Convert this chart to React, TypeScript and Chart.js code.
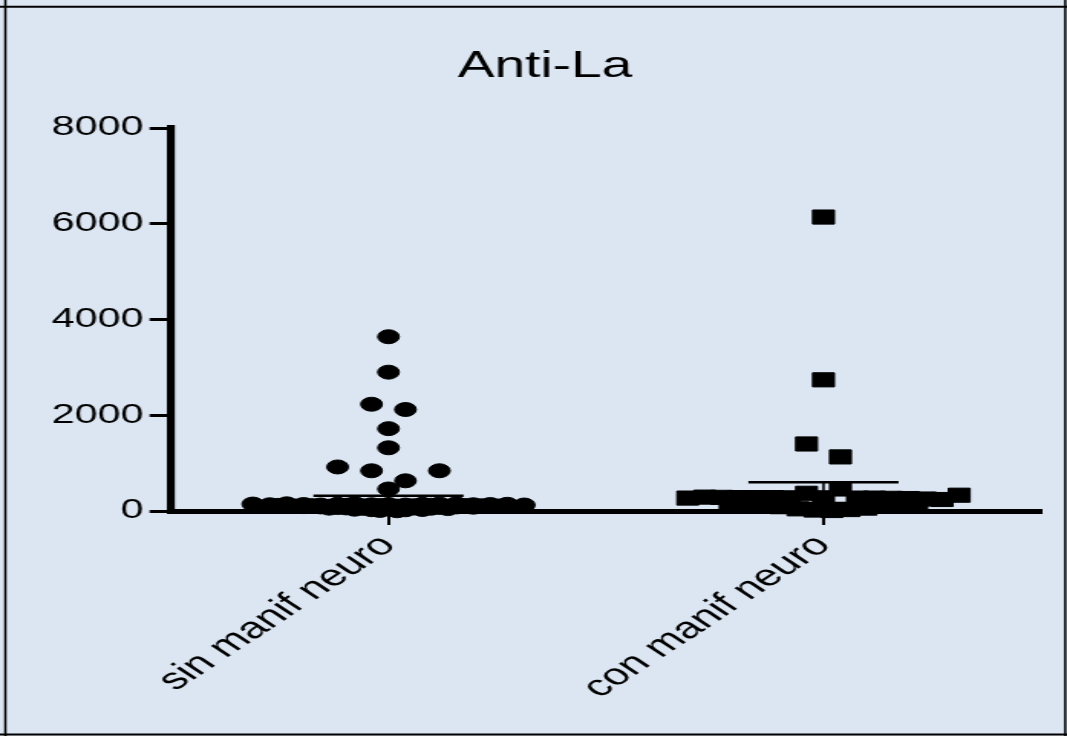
import React, { useEffect, useRef } from 'react';
import { Chart, registerables } from 'chart.js';

Chart.register(...registerables);

// ---------------- data ----------------
const chartTitle = 'Anti-La';
const categories = ['sin manif neuro', 'con manif neuro'];
const yTickValues = [0, 2000, 4000, 6000, 8000];

// individual values, in patient order
const sinManifNeuro = [
  3640, 2900, 2230, 2120, 1720, 1320, 920, 840, 630, 840, 460,
  145, 92, 118, 60, 130, 105, 38, 150, 85, 112, 135, 12,
  125, 72, 100, 65, 140, 120, 28, 155, 88, 108, 130,
  55, 135, 95, 115, 42, 125, 78, 102, 140, 68, 145,
  110, 25, 150, 82, 120, 52, 130, 90, 100, 135, 5,
  140, 75, 115, 62, 125, 85, 110, 32, 105, 80, 58, 50,
];
const conManifNeuro = [
  6140, 270, 2740, 290, 1400, 285, 280, 1130, 280, 280, 275, 370, 275,
  460, 270, 270, 265, 260, 250, 240, 330,
  150, 130, 110, 90, 45, 20, 10, 30, 60, 100, 120, 140,
];

// summary lines (mean, lower end of error bar)
const groupMeans = [320, 600];
const groupErrorLow = [120, 170];

// ---------------- layout constants ----------------
const CANVAS_W = 697; // drawn narrow, shown stretched like the original export
const CANVAS_H = 736;
const SHOWN_W = 1067;
const SLOT = 0.078; // horizontal step between neighbouring symbols (x units)
const ROW_SPAN = 300; // values closer than this share a row
const MAX_ROW = 9; // symbols per row before the row is packed tighter
const DENSE_CAP = 2 * (MAX_ROW - 1) + 1;
const MEAN_HALF = 0.1725;
const CAP_HALF = 0.09;
const FONT = "'Liberation Sans', Arial, sans-serif";

type P = { x: number; y: number };

// Prism-like column scatter: values grouped into centred rows;
// crowded rows are packed at half spacing and stack into a narrowing swarm.
function columnScatter(values: number[], center: number): P[] {
  const order = values.map((_, i) => i).sort((a, b) => values[b] - values[a] || a - b);
  const rows: { idx: number[]; step: number }[] = [];
  let cur: number[] = [];
  let top = 0;
  let cap = DENSE_CAP;
  let cont = false;
  const close = () => {
    rows.push({ idx: cur, step: cont || cur.length > MAX_ROW ? SLOT / 2 : SLOT });
  };
  for (const i of order) {
    const v = values[i];
    if (cur.length && (top - v > ROW_SPAN || cur.length >= cap)) {
      const full = cur.length >= cap;
      close();
      if (full) {
        cont = true;
        cap = Math.max(1, cap - 3);
      } else {
        cont = false;
        cap = DENSE_CAP;
      }
      cur = [];
    }
    if (!cur.length) top = v;
    cur.push(i);
  }
  if (cur.length) close();

  const pts: P[] = new Array(values.length);
  rows.forEach(({ idx, step }) => {
    const sorted = [...idx].sort((a, b) => a - b);
    sorted.forEach((i, k) => {
      pts[i] = { x: center + (k - (sorted.length - 1) / 2) * step, y: values[i] };
    });
  });
  return pts;
}

function lineSet(data: P[], width: number) {
  return {
    data,
    showLine: true,
    pointRadius: 0,
    borderColor: '#000',
    backgroundColor: '#000',
    borderWidth: width,
    clip: false as const,
  };
}

const backgroundPlugin = {
  id: 'prismBackground',
  beforeDraw(chart: any) {
    const { ctx, width, height } = chart;
    ctx.save();
    ctx.fillStyle = '#dce6f2';
    ctx.fillRect(0, 0, width, height);
    ctx.strokeStyle = '#000';
    ctx.lineWidth = 1.5;
    ctx.beginPath();
    ctx.moveTo(3.5, 0);
    ctx.lineTo(3.5, height);
    ctx.moveTo(width - 1.2, 0);
    ctx.lineTo(width - 1.2, height);
    ctx.stroke();
    ctx.lineWidth = 2;
    ctx.beginPath();
    ctx.moveTo(0, 6.7);
    ctx.lineTo(width, 6.7);
    ctx.moveTo(0, height - 1.5);
    ctx.lineTo(width, height - 1.5);
    ctx.stroke();
    ctx.restore();
  },
};

export default function App() {
  const ref = useRef<HTMLCanvasElement | null>(null);

  useEffect(() => {
    document.body.style.margin = '0';
    const canvas = ref.current;
    if (!canvas) return;

    const centers = categories.map((_, i) => i + 0.5);
    const groups = [sinManifNeuro, conManifNeuro];
    const styles = [
      { pointStyle: 'circle', pointRadius: 7 },
      { pointStyle: 'rect', pointRadius: 10 },
    ];

    const datasets: any[] = [];
    groups.forEach((vals, g) => {
      datasets.push({
        label: categories[g],
        data: columnScatter(vals, centers[g]),
        pointStyle: styles[g].pointStyle,
        pointRadius: styles[g].pointRadius,
        pointBorderWidth: 1,
        backgroundColor: '#000',
        borderColor: '#000',
        clip: false,
      });
    });
    groups.forEach((_, g) => {
      const c = centers[g];
      datasets.push(lineSet([{ x: c - MEAN_HALF, y: groupMeans[g] }, { x: c + MEAN_HALF, y: groupMeans[g] }], 2.6));
      datasets.push(lineSet([{ x: c, y: groupMeans[g] }, { x: c, y: groupErrorLow[g] }], 1.6));
      datasets.push(lineSet([{ x: c - CAP_HALF, y: groupErrorLow[g] }, { x: c + CAP_HALF, y: groupErrorLow[g] }], 2));
    });

    const chart = new Chart(canvas, {
      type: 'scatter',
      data: { datasets },
      plugins: [backgroundPlugin],
      options: {
        responsive: false,
        animation: false,
        devicePixelRatio: 1,
        layout: { padding: { left: 32, right: 17, top: 0, bottom: 0 } },
        plugins: {
          legend: { display: false },
          tooltip: { enabled: false },
          title: {
            display: true,
            text: chartTitle,
            color: '#000',
            font: { family: FONT, size: 36, weight: 'normal' },
            padding: { top: 45, bottom: 39.8 },
          },
        },
        scales: {
          x: {
            type: 'linear',
            min: 0,
            max: categories.length,
            afterBuildTicks: (scale: any) => {
              scale.ticks = centers.map((v) => ({ value: v }));
            },
            afterFit: (scale: any) => {
              scale.height = CANVAS_H - 511;
            },
            grid: {
              drawOnChartArea: false,
              drawTicks: true,
              tickLength: 14,
              lineWidth: 2,
              color: '#000',
            },
            border: { display: true, width: 5, color: '#000' },
            ticks: {
              autoSkip: false,
              minRotation: 45,
              maxRotation: 45,
              padding: 3,
              color: '#000',
              font: { family: FONT, size: 30 },
              callback: (_v: any, i: number) => categories[i],
            },
          },
          y: {
            type: 'linear',
            min: yTickValues[0],
            max: yTickValues[yTickValues.length - 1],
            afterBuildTicks: (scale: any) => {
              scale.ticks = yTickValues.map((v) => ({ value: v }));
            },
            afterFit: (scale: any) => {
              scale.width = 111.7 - 32;
            },
            grid: {
              drawOnChartArea: false,
              drawTicks: true,
              tickLength: 14,
              lineWidth: 3,
              color: '#000',
            },
            border: { display: true, width: 5.2, color: '#000' },
            ticks: {
              padding: 4,
              color: '#000',
              font: { family: FONT, size: 27 },
              callback: (v: any) => String(v),
            },
          },
        },
      },
    } as any);

    canvas.style.width = SHOWN_W + 'px';
    canvas.style.height = CANVAS_H + 'px';

    return () => chart.destroy();
  }, []);

  return (
    <canvas
      ref={ref}
      width={CANVAS_W}
      height={CANVAS_H}
      style={{ width: SHOWN_W + 'px', height: CANVAS_H + 'px', display: 'block' }}
    />
  );
}
